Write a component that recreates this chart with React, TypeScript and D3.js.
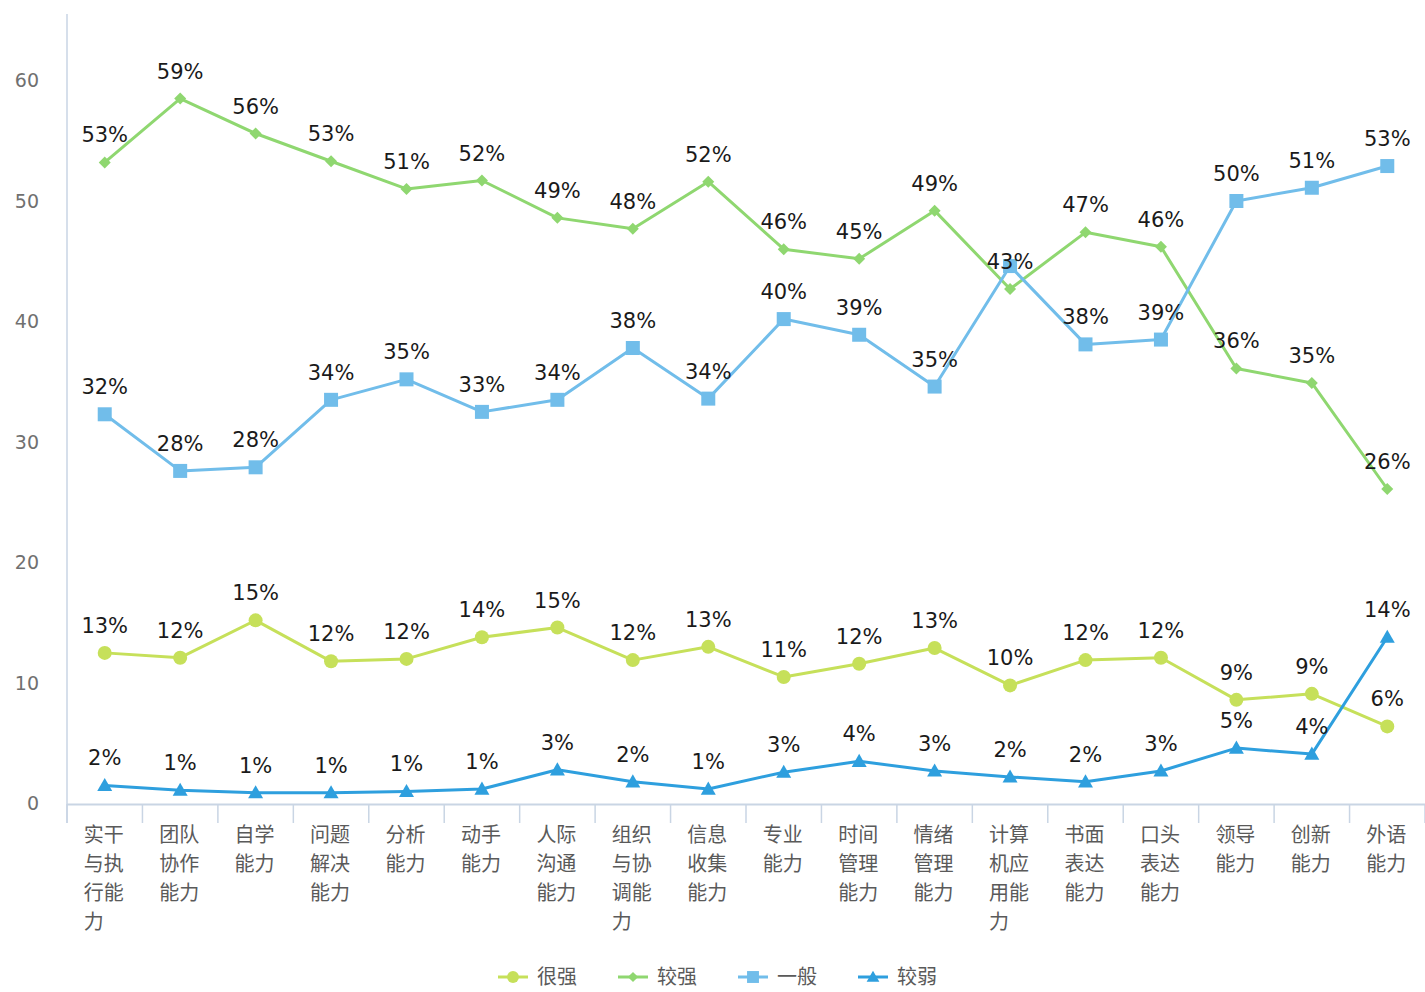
import React from "react";
import * as d3 from "d3";

const categories = [
  "实干与执行能力", "团队协作能力", "自学能力", "问题解决能力", "分析能力", "动手能力",
  "人际沟通能力", "组织与协调能力", "信息收集能力", "专业能力", "时间管理能力", "情绪管理能力",
  "计算机应用能力", "书面表达能力", "口头表达能力", "领导能力", "创新能力", "外语能力",
];
const seriesNames = ["很强", "较强", "一般", "较弱"];
const veryStrong = [12.5, 12.1, 15.2, 11.8, 12.0, 13.8, 14.6, 11.9, 13.0, 10.5, 11.6, 12.9, 9.8, 11.9, 12.1, 8.6, 9.1, 6.4];
const strong = [53.2, 58.5, 55.6, 53.3, 51.0, 51.7, 48.6, 47.7, 51.6, 46.0, 45.2, 49.2, 42.7, 47.4, 46.2, 36.1, 34.9, 26.1];
const average = [32.3, 27.6, 27.9, 33.5, 35.2, 32.5, 33.5, 37.8, 33.6, 40.2, 38.9, 34.6, 44.6, 38.1, 38.5, 50.0, 51.1, 52.9];
const weak = [1.5, 1.1, 0.9, 0.9, 1.0, 1.2, 2.8, 1.8, 1.2, 2.6, 3.5, 2.7, 2.2, 1.8, 2.7, 4.6, 4.1, 13.8];
const yTicks = [0, 10, 20, 30, 40, 50, 60];

const colors = ["#c6e05a", "#8fd770", "#71bdea", "#2e9fde"];
const markerTypes = ["circle", "diamond", "square", "triangle"];

function Marker({ type, x, y, color, legend }: { type: string; x: number; y: number; color: string; legend?: boolean }) {
  const s = legend ? 0.85 : 1;
  if (type === "circle") return <circle cx={x} cy={y} r={7 * s} fill={color} />;
  if (type === "diamond") {
    const r = 6 * s;
    return <path d={`M${x},${y - r}L${x + r},${y}L${x},${y + r}L${x - r},${y}Z`} fill={color} />;
  }
  if (type === "square") {
    const r = 7 * s;
    return <rect x={x - r} y={y - r} width={2 * r} height={2 * r} fill={color} />;
  }
  const r = 7.5 * s;
  return <path d={`M${x},${y - r}L${x + r},${y + r * 0.75}L${x - r},${y + r * 0.75}Z`} fill={color} />;
}

export default function App() {
  const W = 1425, H = 992;
  const left = 67, right = 1425;
  const x = d3.scaleBand<string>().domain(categories).range([left, right]).padding(0);
  const y = d3.scaleLinear().domain([0, 60]).range([803.5, 80.5]);
  const cx = (c: string) => (x(c) as number) + x.bandwidth() / 2;
  const allSeries = [veryStrong, strong, average, weak];
  const line = d3.line<number>().x((_, i) => cx(categories[i])).y((d) => y(d));

  const labelFont = "'DejaVu Sans', sans-serif";
  const cjkFont = "'Noto Sans CJK SC', sans-serif";

  // data labels with simple collision avoidance
  const boxes: { x0: number; x1: number; y0: number; y1: number }[] = [];
  const labels: { x: number; y: number; t: string; key: string }[] = [];
  allSeries.forEach((vals, si) => {
    vals.forEach((v, i) => {
      const t = `${Math.round(v)}%`;
      const lx = cx(categories[i]);
      const ly = y(v) - 20;
      const w = t.length * 14;
      const b = { x0: lx - w / 2, x1: lx + w / 2, y0: ly - 21, y1: ly + 5 };
      const hit = boxes.some((o) => b.x0 < o.x1 && b.x1 > o.x0 && b.y0 < o.y1 && b.y1 > o.y0);
      if (!hit) {
        boxes.push(b);
        labels.push({ x: lx, y: ly, t, key: `${si}-${i}` });
      }
    });
  });

  const chunk = (s: string) => {
    const out: string[] = [];
    for (let i = 0; i < s.length; i += 2) out.push(s.slice(i, i + 2));
    return out;
  };

  const bandTicks = categories.map((c) => x(c) as number).concat([right]);

  return (
    <svg width={W} height={H} style={{ position: "absolute", left: 0, top: 0, background: "#fff" }}>
      {/* y axis */}
      <line x1={left} x2={left} y1={14} y2={823} stroke="#c9d5e4" strokeWidth={1.5} />
      {yTicks.map((t) => (
        <text key={t} x={39} y={y(t)} dy="0.35em" textAnchor="end" fontFamily={labelFont} fontSize={19} fill="#707070">
          {t}
        </text>
      ))}
      {/* x axis */}
      <line x1={left} x2={right} y1={804.5} y2={804.5} stroke="#c9d5e4" strokeWidth={2} />
      {bandTicks.map((t, i) => (
        <line key={i} x1={t} x2={t} y1={804} y2={823} stroke="#c9d5e4" strokeWidth={1.5} />
      ))}
      {categories.map((c) => {
        const lines = chunk(c);
        const x0 = cx(c) - 21;
        return (
          <text key={c} fontFamily={cjkFont} fontSize={20} fill="#5a5a5a">
            {lines.map((l, li) => (
              <tspan key={li} x={x0} y={835 + li * 29} dy="0.35em">
                {l}
              </tspan>
            ))}
          </text>
        );
      })}
      {/* series */}
      {allSeries.map((vals, si) => (
        <g key={si}>
          <path d={line(vals) || ""} fill="none" stroke={colors[si]} strokeWidth={3} strokeLinejoin="round" />
          {vals.map((v, i) => (
            <Marker key={i} type={markerTypes[si]} x={cx(categories[i])} y={y(v)} color={colors[si]} />
          ))}
        </g>
      ))}
      {labels.map((l) => (
        <text key={l.key} x={l.x} y={l.y} textAnchor="middle" fontFamily={labelFont} fontSize={21} fill="#1a1a1a">
          {l.t}
        </text>
      ))}
      {/* legend */}
      {seriesNames.map((n, i) => {
        const lx = 498 + i * 120;
        const ly = 977;
        return (
          <g key={n}>
            <line x1={lx} x2={lx + 30} y1={ly} y2={ly} stroke={colors[i]} strokeWidth={3} />
            <Marker type={markerTypes[i]} x={lx + 15} y={ly} color={colors[i]} legend />
            <text x={lx + 39} y={ly} dy="0.35em" fontFamily={cjkFont} fontSize={20} fill="#5a5a5a">
              {n}
            </text>
          </g>
        );
      })}
    </svg>
  );
}
